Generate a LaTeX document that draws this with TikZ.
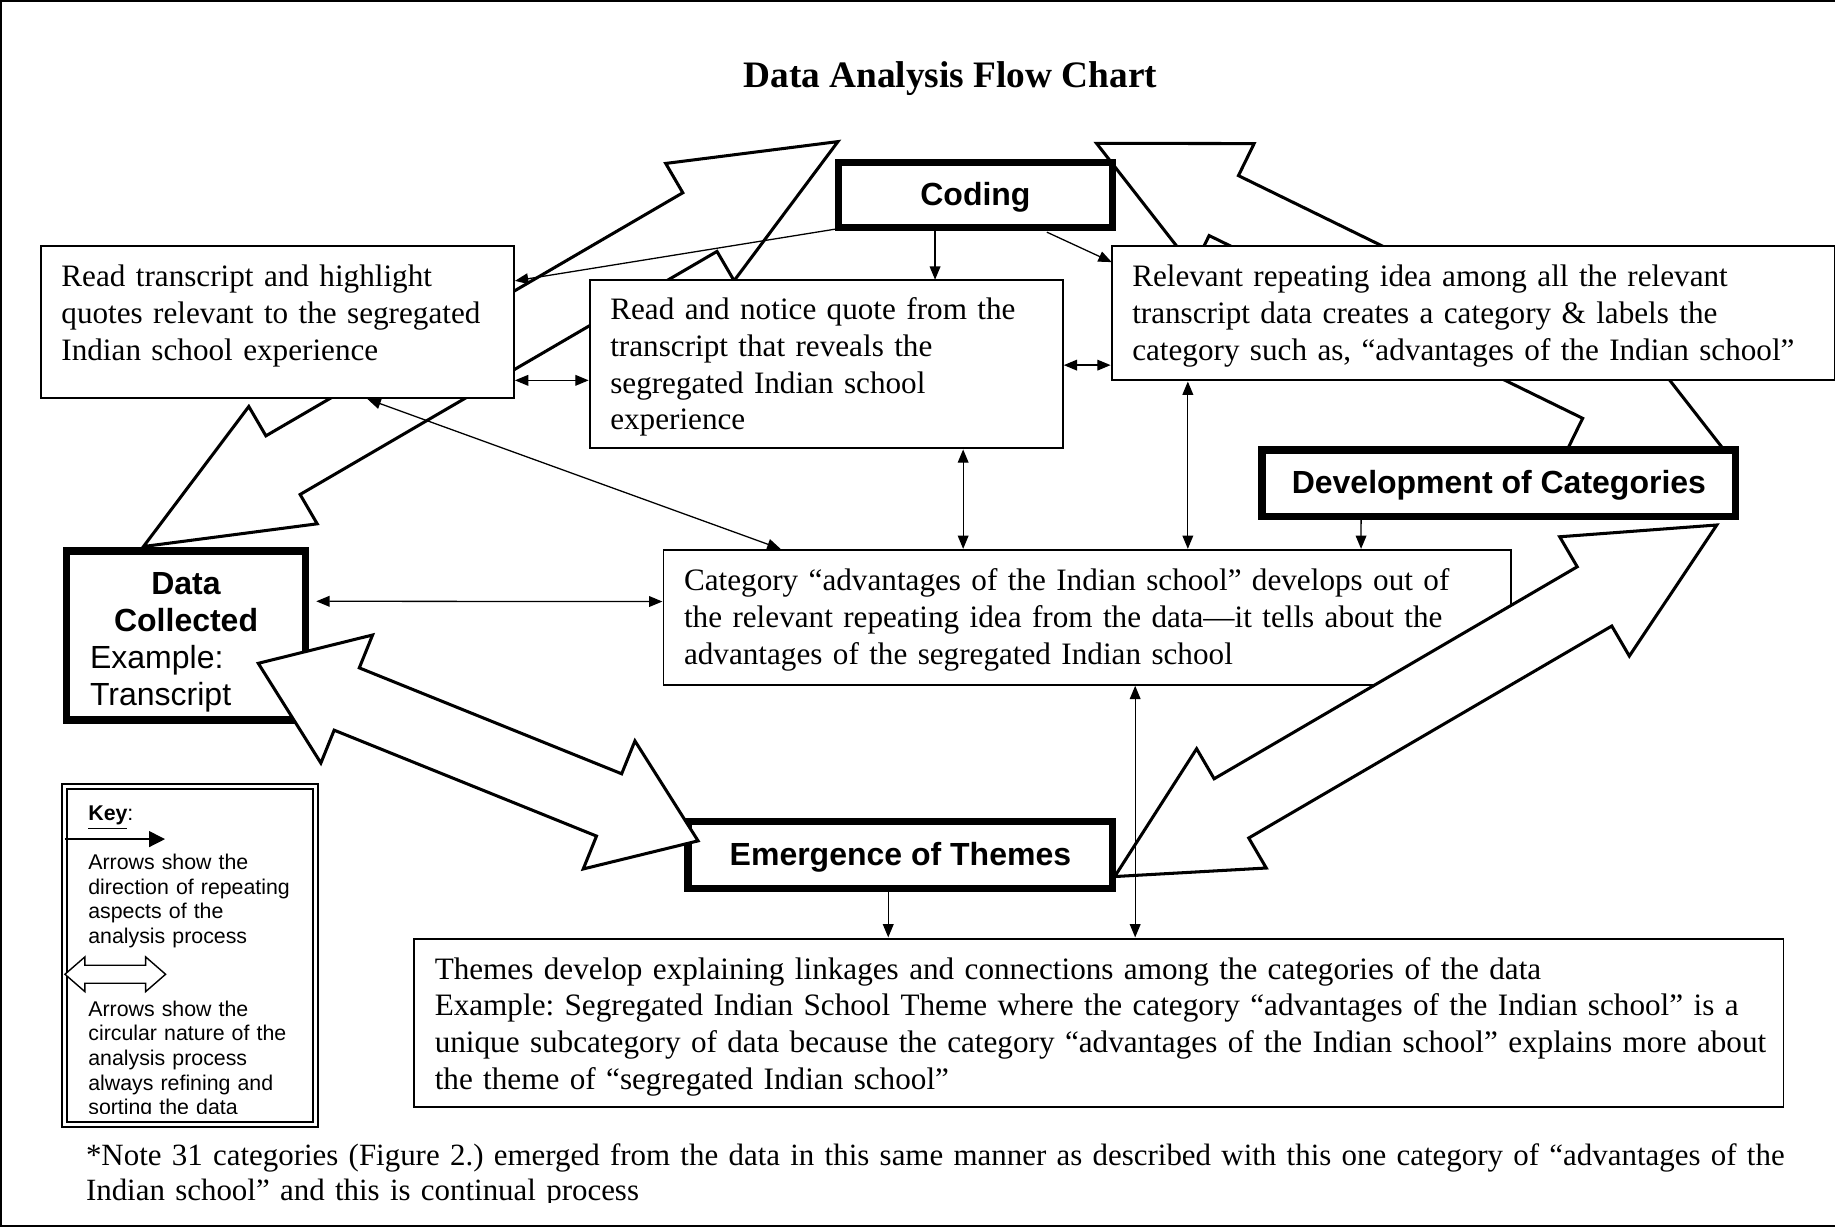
\documentclass[tikz,border=0pt]{standalone}
\usepackage{fontspec}
\setmainfont{Liberation Serif}
\setsansfont{Liberation Sans}
\usetikzlibrary{arrows.meta,calc}
\frenchspacing

% #1 style, #2,#3 tip 1, #4,#5 tip 2, #6 head length at tip 1, #7 head length at tip 2, #8 head half width, #9 shaft half width
\newcommand\dblockarrow[9]{%
  \pgfmathsetmacro\baDx{#4-#2}%
  \pgfmathsetmacro\baDy{#5-#3}%
  \pgfmathsetmacro\baLen{veclen(\baDx,\baDy)}%
  \pgfmathsetmacro\baUx{\baDx/\baLen}%
  \pgfmathsetmacro\baUy{\baDy/\baLen}%
  \draw[#1] (#2,#3)
   -- ({#2+#6*\baUx-#8*\baUy},{#3+#6*\baUy+#8*\baUx})
   -- ({#2+#6*\baUx-#9*\baUy},{#3+#6*\baUy+#9*\baUx})
   -- ({#4-#7*\baUx-#9*\baUy},{#5-#7*\baUy+#9*\baUx})
   -- ({#4-#7*\baUx-#8*\baUy},{#5-#7*\baUy+#8*\baUx})
   -- (#4,#5)
   -- ({#4-#7*\baUx+#8*\baUy},{#5-#7*\baUy-#8*\baUx})
   -- ({#4-#7*\baUx+#9*\baUy},{#5-#7*\baUy-#9*\baUx})
   -- ({#2+#6*\baUx+#9*\baUy},{#3+#6*\baUy-#9*\baUx})
   -- ({#2+#6*\baUx+#8*\baUy},{#3+#6*\baUy-#8*\baUx})
   -- cycle;}
% invisible struts to place the text block vertically
\newcommand\topstrut[1]{\rule{0pt}{#1}}
\newcommand\botstrut[1]{\rule[-#1]{0pt}{#1}}

\begin{document}
\begin{tikzpicture}[x=0.5pt,y=-0.5pt,
  every node/.style={outer sep=0pt},
  tbox/.style={draw, line width=0.8pt, fill=white, inner xsep=8.75pt, inner ysep=0pt, align=left,
    font=\fontsize{13.32pt}{15.7pt}\selectfont},
  kbox/.style={draw, line width=3.2pt, fill=white, inner sep=0pt, align=center,
    font=\sffamily\bfseries\fontsize{13.67pt}{15.85pt}\selectfont},
  klab/.style={kbox, text height=11.6pt, text depth=2.9pt},
  bigarrow/.style={draw, line width=1.3pt, fill=white},
  keyarrow/.style={draw, line width=0.6pt, fill=white},
  conn/.style={line width=0.55pt, -{Triangle[length=5.7pt,width=4.6pt]}},
  dconn/.style={line width=0.55pt, {Triangle[length=5.7pt,width=4.6pt]}-{Triangle[length=5.7pt,width=4.6pt]}},
  keytext/.style={inner sep=0pt, align=left, text width=95pt,
    font=\sffamily\fontsize{9.11pt}{10.5pt}\selectfont},
]
\useasboundingbox (0,0) rectangle (1568,1049);

% frame
\draw[line width=0.9pt] (1568,1) -- (1,1) -- (1,1047.5) -- (1568,1047.5);

% title
\node[anchor=base, inner sep=0pt, font=\bfseries\fontsize{15.95pt}{18pt}\selectfont] (title) at (812,75) {Data Analysis Flow Chart};

% block arrows behind the boxes
\dblockarrow{bigarrow}{122.6}{467}{716}{121}{138}{136.5}{58}{29}
\dblockarrow{bigarrow}{937}{122.5}{1473.6}{385}{121}{121}{59}{28.5}

% boxes
\node[tbox, minimum width=202pt, minimum height=65pt, text width=184.5pt] (A) at (237,275)
  {Read transcript and highlight\\quotes relevant to the segregated\\Indian school experience\botstrut{7.9pt}};
\node[tbox, minimum width=202pt, minimum height=72pt, text width=184.5pt] (B) at (706,311)
  {\topstrut{12.1pt}Read and notice quote from the\\transcript that reveals the\\segregated Indian school\\experience};
\node[tbox, minimum width=309pt, minimum height=57.5pt, text width=291.5pt] (C) at (1259,267.5)
  {\topstrut{11.6pt}\mbox{Relevant repeating idea among all the relevant}\\\mbox{transcript data creates a category \& labels the}\\\mbox{category such as, “advantages of the Indian school”}};
\node[klab, minimum width=117pt, minimum height=27.85pt] (Coding) at (833.5,166.5) {Coding};
\node[klab, minimum width=202.25pt, minimum height=28.5pt] (D) at (1280.8,413) {Development of Categories};
\node[tbox, minimum width=362pt, minimum height=57.5pt, text width=344.5pt] (E) at (929,527.5)
  {\topstrut{11.6pt}\mbox{Category “advantages of the Indian school” develops out of}\\\mbox{the relevant repeating idea from the data—it tells about the}\\advantages of the segregated Indian school};
\node[tbox, minimum width=585pt, minimum height=72pt, text width=567.5pt] (H) at (939,874)
  {\topstrut{12.6pt}\mbox{Themes develop explaining linkages and connections among the categories of the data}\\\mbox{Example: Segregated Indian School Theme where the category “advantages of the Indian school” is a}\\\mbox{unique subcategory of data because the category “advantages of the Indian school” explains more about}\\the theme of “segregated Indian school”};
\node[kbox, align=left, minimum width=102.25pt, minimum height=72.2pt, text width=82pt,
  font=\sffamily\fontsize{13.67pt}{15.85pt}\selectfont] (F) at (159,543)
  {\centering\topstrut{15.3pt}\textbf{Data}\\\textbf{Collected}\par\raggedright Example:\\Transcript};
\node[klab, minimum width=181.4pt, minimum height=28.5pt] (G) at (769.4,730.5) {Emergence of Themes};

% block arrows over the boxes
\dblockarrow{bigarrow}{220.7}{566.8}{596.5}{718.5}{81.5}{82}{59}{28.7}
\dblockarrow{bigarrow}{952.5}{749}{1467}{448.6}{115.5}{121}{59}{29.3}

% key
\node[draw, double, line width=0.85pt, double distance=1.4pt, fill=white, inner sep=0pt,
  minimum width=107.25pt, minimum height=144.25pt] (key) at (162.5,816.5) {};
\node[anchor=base west, inner sep=0pt, font=\sffamily\fontsize{9.11pt}{10.5pt}\selectfont] (keyttl) at (75.5,701) {\underline{\textbf{Key}}:};
\draw[line width=0.55pt, -{Triangle[length=6.8pt,width=6.8pt]}] (55.5,717) -- (141,717);
\dblockarrow{keyarrow}{55.5}{832.5}{141.5}{832.5}{17}{17}{14.8}{7.7}
\begin{scope}
  \clip (58,676) rectangle (266,951.5);
  \node[keytext, anchor=base west] (k1) at (75.5,743) {Arrows show the\\direction of repeating\\aspects of the\\analysis process};
  \node[keytext, anchor=base west] (k2) at (75.5,868.5) {Arrows show the\\circular nature of the\\analysis process\\always refining and\\sorting the data};
\end{scope}

% note
\begin{scope}
  \clip (0,0) rectangle (1568,1027.5);
  \node[anchor=base west, inner sep=0pt, align=left, text width=780pt,
    font=\fontsize{13.21pt}{15pt}\selectfont] (note) at (73.5,995.5)
    {\mbox{*Note 31 categories (Figure 2.) emerged from the data in this same manner as described with this one category of “advantages of the}\\Indian school” and this is continual process};
\end{scope}

% thin connectors
\draw[conn] ($(Coding.south west)+(0,1)$) -- ($(A.north east)+(1,30)$);
\draw[conn] ($(Coding.south)+(-34.5,0)$) -- ($(B.north)+(93,0)$);
\draw[conn] ($(Coding.south east)+(-56,4)$) -- ($(C.north west)+(0,14)$);
\draw[dconn] ($(A.south east)+(1,-15)$) -- ($(B.south west)+(-1,-58)$);
\draw[dconn] ($(B.south east)+(1,-71)$) -- ($(C.south west)+(-1,-13)$);
\draw[dconn] ($(B.south west)+(319,1)$) -- ($(E.north west)+(256,-1)$);
\draw[dconn] ($(C.south west)+(65,1)$) -- ($(E.north west)+(448,-1)$);
\draw[conn] ($(D.south west)+(84.5,3)$) -- ($(E.north west)+(596,-1)$);
\draw[dconn] ($(A.south west)+(279,1)$) -- ($(E.north west)+(100,-1)$);
\draw[dconn] ($(F.north east)+(9,43)$) -- ($(E.north west)+(-1,44)$);
\draw[conn] ($(G.south west)+(171,3)$) -- ($(H.north west)+(405,-1)$);
\draw[dconn] ($(E.south west)+(403,1)$) -- ($(H.north west)+(616,-1)$);
\end{tikzpicture}
\end{document}
